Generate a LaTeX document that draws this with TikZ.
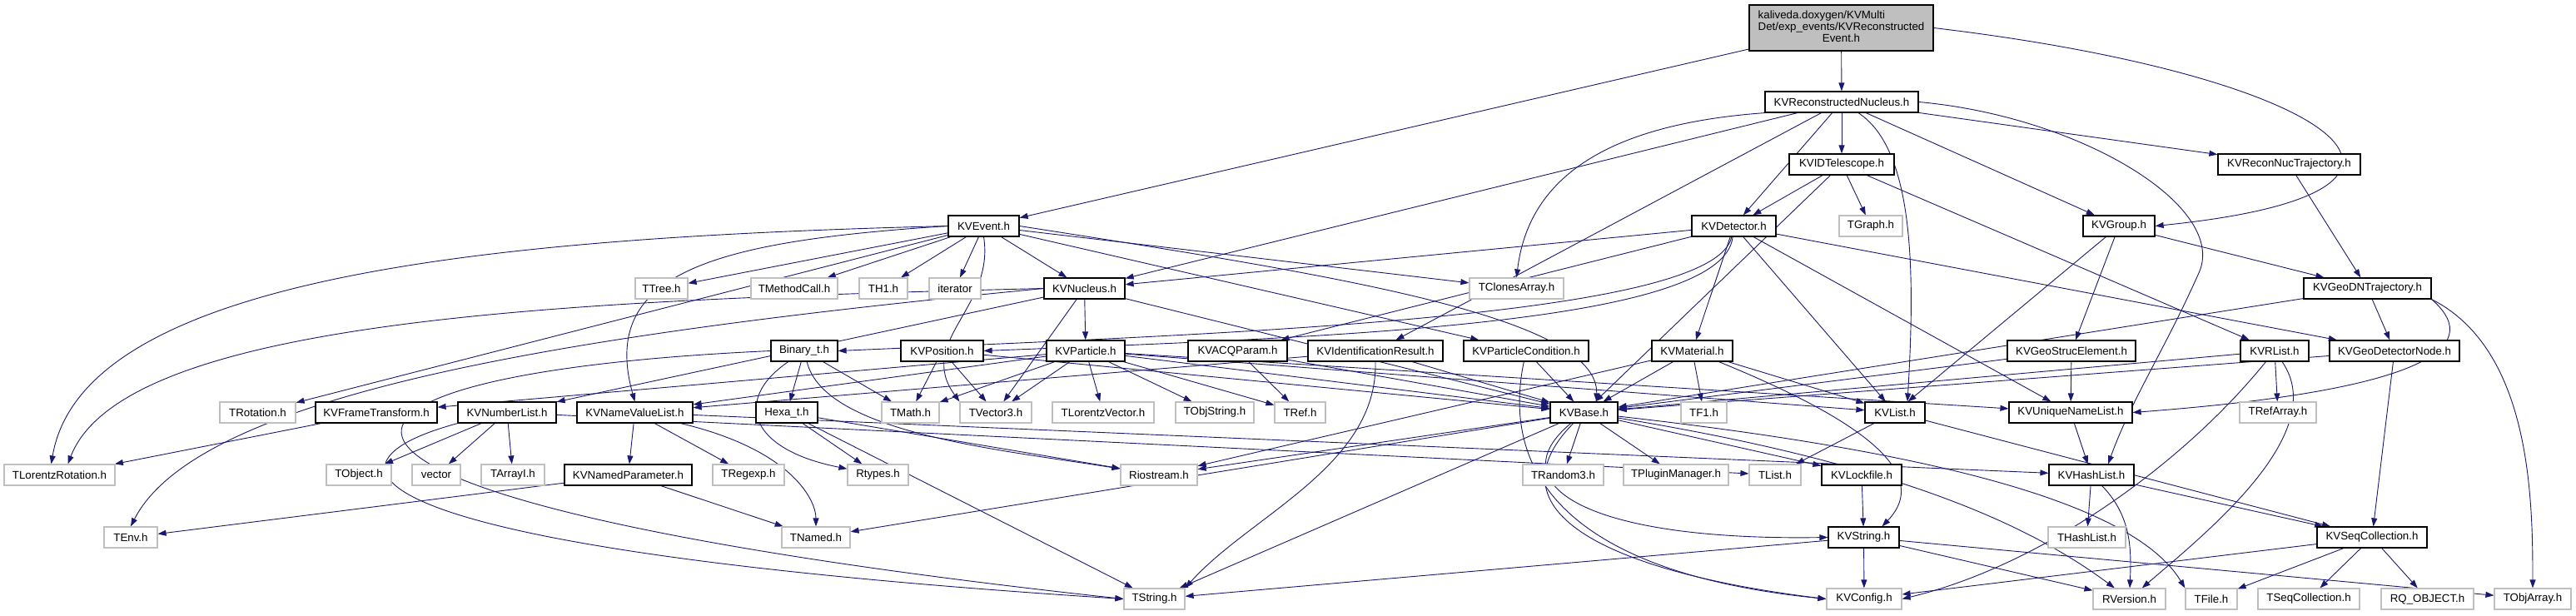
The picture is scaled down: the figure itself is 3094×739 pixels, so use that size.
\documentclass[tikz,border=0pt]{standalone}
\usepackage{fontspec}
\setmainfont{Liberation Sans}
\usetikzlibrary{arrows.meta}
\pgfdeclarelayer{bg}
\pgfsetlayers{bg,main}
\definecolor{edgec}{HTML}{191970}
\definecolor{extc}{HTML}{BFBFBF}
\newcommand{\mkn}[6]{\node[#1, minimum width={(#4-#3)*1pt}] (#2) at ({(#3+#4)/2},#5) {#6};}
\begin{document}
\begin{tikzpicture}[x=1pt,y=-1pt,
 doc/.style={draw=black, line width=1.2pt, fill=white, inner sep=0pt, minimum height=25pt, font=\fontsize{13.3}{15}\selectfont},
 ext/.style={doc, draw=extc},
 e/.style={draw=edgec, line width=0.9pt, -{Triangle[length=10pt,width=7pt]}},
]
\useasboundingbox (0,0) rectangle (3094,739);
\node[doc, fill=extc, minimum width=221pt, minimum height=55pt] (top) at (2211.5,33.5) {\renewcommand{\arraystretch}{0.92}\begin{tabular}{@{}l@{}}kaliveda.doxygen/KVMulti\\Det/exp\_events/KVReconstructed\\\multicolumn{1}{@{}c@{}}{Event.h}\end{tabular}};
\mkn{doc}{recnuc}{2120}{2304}{122.5}{KVReconstructedNucleus.h}
\mkn{doc}{idtel}{2149}{2275}{197.5}{KVIDTelescope.h}
\mkn{doc}{recnuctraj}{2664}{2835}{197.5}{KVReconNucTrajectory.h}
\mkn{doc}{event}{1139}{1224}{271.5}{KVEvent.h}
\mkn{doc}{detector}{2032}{2133}{271.5}{KVDetector.h}
\mkn{ext}{tgraph}{2209}{2285}{271.5}{TGraph.h}
\mkn{doc}{group}{2502}{2588}{271.5}{KVGroup.h}
\mkn{ext}{ttree}{763}{826}{346.5}{TTree.h}
\mkn{ext}{tmethodcall}{902}{1006}{346.5}{TMethodCall.h}
\mkn{ext}{th1}{1032}{1090}{346.5}{TH1.h}
\mkn{ext}{iterator}{1116}{1178}{346.5}{iterator}
\mkn{doc}{nucleus}{1254}{1351}{346.5}{KVNucleus.h}
\mkn{ext}{tclonesarray}{1765}{1878}{346.5}{TClonesArray.h}
\mkn{doc}{geodntraj}{2767}{2920}{346.5}{KVGeoDNTrajectory.h}
\mkn{doc}{binary}{926}{1006}{421.5}{Binary\_t.h}
\mkn{doc}{position}{1082}{1181}{421.5}{KVPosition.h}
\mkn{doc}{particle}{1257}{1351}{421.5}{KVParticle.h}
\mkn{doc}{acqparam}{1427}{1546}{421.5}{KVACQParam.h}
\mkn{doc}{idresult}{1571}{1733}{421.5}{KVIdentificationResult.h}
\mkn{doc}{partcond}{1758}{1908}{421.5}{KVParticleCondition.h}
\mkn{doc}{material}{1984}{2081}{421.5}{KVMaterial.h}
\mkn{doc}{geostruc}{2411}{2565}{421.5}{KVGeoStrucElement.h}
\mkn{doc}{rlist}{2691}{2773}{421.5}{KVRList.h}
\mkn{doc}{geodetnode}{2798}{2954}{421.5}{KVGeoDetectorNode.h}
\mkn{ext}{trotation}{264}{355}{495.5}{TRotation.h}
\mkn{doc}{frametrans}{379}{525}{495.5}{KVFrameTransform.h}
\mkn{doc}{numberlist}{550}{668}{495.5}{KVNumberList.h}
\mkn{doc}{namevaluelist}{693}{832}{495.5}{KVNameValueList.h}
\mkn{doc}{hexa}{908}{982}{495.5}{Hexa\_t.h}
\mkn{ext}{tmath}{1059}{1128}{495.5}{TMath.h}
\mkn{ext}{tvector3}{1153}{1239}{495.5}{TVector3.h}
\mkn{ext}{tlorentzvector}{1264}{1386}{495.5}{TLorentzVector.h}
\mkn{ext}{tobjstring}{1412}{1506}{495.5}{TObjString.h}
\mkn{ext}{tref}{1531}{1592}{495.5}{TRef.h}
\mkn{doc}{kvbase}{1862}{1943}{495.5}{KVBase.h}
\mkn{ext}{tf1}{2019}{2074}{495.5}{TF1.h}
\mkn{doc}{kvlist}{2240}{2312}{495.5}{KVList.h}
\mkn{doc}{uniquenamelist}{2413}{2561}{495.5}{KVUniqueNameList.h}
\mkn{ext}{trefarray}{2690}{2782}{495.5}{TRefArray.h}
\mkn{ext}{tlorentzrotation}{5}{138}{570.5}{TLorentzRotation.h}
\mkn{ext}{tobject}{392}{470}{570.5}{TObject.h}
\mkn{ext}{vector}{495}{553}{570.5}{vector}
\mkn{ext}{tarrayi}{578}{654}{570.5}{TArrayI.h}
\mkn{doc}{namedparam}{678}{831}{570.5}{KVNamedParameter.h}
\mkn{ext}{tregexp}{856}{942}{570.5}{TRegexp.h}
\mkn{ext}{rtypes}{1018}{1091}{570.5}{Rtypes.h}
\mkn{ext}{riostream}{1346}{1438}{570.5}{Riostream.h}
\mkn{ext}{trandom3}{1829}{1926}{570.5}{TRandom3.h}
\mkn{ext}{tpluginmanager}{1950}{2076}{570.5}{TPluginManager.h}
\mkn{ext}{tlist}{2101}{2163}{570.5}{TList.h}
\mkn{doc}{lockfile}{2188}{2284}{570.5}{KVLockfile.h}
\mkn{doc}{hashlist}{2461}{2563}{570.5}{KVHashList.h}
\mkn{ext}{tenv}{125}{189}{645.5}{TEnv.h}
\mkn{ext}{tnamed}{939}{1021}{645.5}{TNamed.h}
\mkn{doc}{kvstring}{2196}{2281}{645.5}{KVString.h}
\mkn{ext}{thashlist}{2460}{2553}{645.5}{THashList.h}
\mkn{doc}{seqcoll}{2783}{2915}{645.5}{KVSeqCollection.h}
\mkn{ext}{tstring}{1350}{1423}{719.5}{TString.h}
\mkn{ext}{kvconfig}{2194}{2284}{719.5}{KVConfig.h}
\mkn{ext}{rversion}{2514}{2601}{719.5}{RVersion.h}
\mkn{ext}{tfile}{2625}{2687}{719.5}{TFile.h}
\mkn{ext}{tseqcoll}{2712}{2834}{719.5}{TSeqCollection.h}
\mkn{ext}{rqobject}{2860}{2971}{719.5}{RQ\_OBJECT.h}
\mkn{ext}{tobjarray}{2996}{3088}{719.5}{TObjArray.h}
\begin{pgfonlayer}{bg}
% top
\draw[e] (top) -- (event);
\draw[e] (top) -- (recnuc);
\draw[e] (top.east) .. controls (2800,90) and (3000,230) .. (group.east);
% reconstructed nucleus
\draw[e] (recnuc) -- (recnuctraj);
\draw[e] (recnuc) -- (idtel);
\draw[e] (recnuc) -- (group);
\draw[e] (recnuc) -- (nucleus);
\draw[e] (recnuc) -- (idresult);
\draw[e] (recnuc) -- (detector);
\draw[e] (recnuc.south west) .. controls (1920,150) and (1835,220) .. (tclonesarray.north);
\draw[e] ([xshift=20pt]recnuc.south) .. controls (2300,180) and (2300,330) .. ([xshift=15pt]kvlist.north);
\draw[e] (recnuc.east) .. controls (2500,140) and (2680,250) .. (2640,330) .. controls (2600,420) and (2560,480) .. ([xshift=20pt]hashlist.north);
% telescope
\draw[e] (idtel) -- (detector);
\draw[e] (idtel) -- (tgraph);
\draw[e] (idtel) -- (rlist);
\draw[e] (idtel) -- (kvbase);
\draw[e] (recnuctraj) -- (geodntraj);
% event
\draw[e] (event) -- (ttree);
\draw[e] (event) -- (tmethodcall);
\draw[e] (event) -- (th1);
\draw[e] (event) -- (iterator);
\draw[e] (event) -- (nucleus);
\draw[e] (event) -- (tclonesarray);
\draw[e] (event) -- (partcond);
\draw[e] (event) -- (trotation);
\draw[e] (event.west) .. controls (600,285) and (100,330) .. ([xshift=-10pt]tlorentzrotation.north);
\draw[e] (event.west) .. controls (850,290) and (720,330) .. (namevaluelist.north);
\draw[e] (event.south) .. controls (1195,370) and (1100,410) .. (tvector3.north west);
\draw[e] (event.east) .. controls (1600,330) and (1920,380) .. ([xshift=15pt]kvbase.north);
% nucleus
\draw[e] (nucleus) -- (particle);
\draw[e] (nucleus) -- (tvector3);
\draw[e] (nucleus) -- (numberlist);
\draw[e] (nucleus) -- (kvbase);
\draw[e] (nucleus.west) .. controls (700,360) and (150,380) .. ([xshift=10pt]tlorentzrotation.north);
\draw[e] (nucleus.west) .. controls (700,400) and (240,470) .. (tenv.north);
% binary / hexa
\draw[e] (binary) -- (hexa);
\draw[e] (binary) -- (tmath);
\draw[e] (binary) .. controls (880,480) and (900,540) .. (rtypes);
\draw[e] (binary) .. controls (990,520) and (1200,540) .. (riostream);
\draw[e] (binary.west) .. controls (300,450) and (250,600) .. (tstring.west);
\draw[e] (hexa) -- (rtypes);
\draw[e] (hexa) -- (riostream);
\draw[e] (hexa) -- (tstring);
% position / particle
\draw[e] (position) -- (tmath);
\draw[e] (position) -- (tvector3);
\draw[e] (position) -- (kvbase);
\draw[e] (particle) -- (tmath);
\draw[e] (particle) -- (tvector3);
\draw[e] (particle) -- (tlorentzvector);
\draw[e] (particle) -- (tobjstring);
\draw[e] (particle) -- (tref);
\draw[e] (particle) -- (namevaluelist);
\draw[e] (particle) -- (frametrans);
\draw[e] (particle) -- (kvbase);
\draw[e] (particle) -- (kvlist);
\draw[e] (particle) -- (uniquenamelist);
% acq / idresult / partcond / material
\draw[e] (acqparam) -- (tref);
\draw[e] (acqparam) -- (kvbase);
\draw[e] (idresult) -- (kvbase);
\draw[e] (idresult) -- (namevaluelist);
\draw[e] (idresult.south) .. controls (1655,560) and (1500,620) .. (tstring.north east);
\draw[e] (partcond) -- (kvbase);
\draw[e] (partcond) .. controls (1800,580) and (1900,690) .. (kvconfig.west);
\draw[e] (material) -- (kvbase);
\draw[e] (material) -- (tf1);
\draw[e] (material) -- (kvlist);
\draw[e] (material) -- (riostream);
\draw[e] (material) .. controls (2200,490) and (2330,560) .. ([xshift=22pt]kvstring.north);
% detector
\draw[e] (detector) -- (nucleus);
\draw[e] (detector) -- (material);
\draw[e] (detector) -- (kvlist);
\draw[e] (detector) -- (uniquenamelist);
\draw[e] (detector) -- (geodetnode);
\draw[e] (detector) -- (acqparam);
\draw[e] (detector) .. controls (2060,380) and (1500,400) .. (binary.east);
\draw[e] (detector) .. controls (2070,390) and (1600,405) .. (position.east);
% group and geometry
\draw[e] (group) -- (geostruc);
\draw[e] (group) -- (geodntraj);
\draw[e] (group) -- (kvlist);
\draw[e] (geodntraj) -- (geodetnode);
\draw[e] (geodntraj) -- (kvbase);
\draw[e] (geodntraj.south east) .. controls (2990,420) and (2900,470) .. (uniquenamelist.east);
\draw[e] (geodntraj.south east) .. controls (3040,420) and (3042,600) .. (tobjarray.north);
\draw[e] (geostruc) -- (uniquenamelist);
\draw[e] (geostruc) -- (kvbase);
\draw[e] (rlist) -- (trefarray);
\draw[e] (rlist) -- (kvbase);
\draw[e] (rlist) .. controls (2620,560) and (2450,680) .. (kvconfig.east);
\draw[e] (rlist) .. controls (2800,520) and (2650,640) .. (rversion);
\draw[e] (geodetnode) -- (kvbase);
\draw[e] (geodetnode) -- (seqcoll);
% lists
\draw[e] (frametrans) -- (tlorentzrotation);
\draw[e] (numberlist) -- (tobject);
\draw[e] (numberlist) -- (vector);
\draw[e] (numberlist) -- (tarrayi);
\draw[e] (numberlist) -- (tlist);
\draw[e] (numberlist.south west) .. controls (360,560) and (420,660) .. (tstring.west);
\draw[e] (namevaluelist) -- (namedparam);
\draw[e] (namevaluelist) -- (tregexp);
\draw[e] (namevaluelist) .. controls (950,540) and (980,600) .. (tnamed);
\draw[e] (namevaluelist) -- (hashlist);
\draw[e] (namedparam) -- (tenv);
\draw[e] (namedparam) -- (tnamed);
% base
\draw[e] (kvbase) -- (trandom3);
\draw[e] (kvbase) -- (tpluginmanager);
\draw[e] (kvbase) -- (lockfile);
\draw[e] (kvbase) -- (tnamed);
\draw[e] (kvbase) -- (riostream);
\draw[e] (kvbase) -- (tstring);
\draw[e] (kvbase) .. controls (2300,560) and (2450,640) .. (rversion);
\draw[e] (kvbase) .. controls (2300,540) and (2560,600) .. (tfile.north west);
\draw[e] (kvbase) .. controls (1800,580) and (1900,650) .. (kvstring.west);
\draw[e] (kvbase) .. controls (1780,620) and (1950,690) .. (kvconfig.west);
\draw[e] (kvlist) -- (tlist);
\draw[e] (kvlist) -- (seqcoll);
\draw[e] (uniquenamelist) -- (hashlist);
\draw[e] (hashlist) -- (thashlist);
\draw[e] (hashlist) .. controls (2560,620) and (2560,660) .. (rversion);
\draw[e] (hashlist) -- (seqcoll);
\draw[e] (lockfile) -- (kvstring);
\draw[e] (kvstring) -- (kvconfig);
\draw[e] (kvstring) -- (tstring);
\draw[e] (kvstring) -- (rversion);
\draw[e] (kvstring) -- (tobjarray);
\draw[e] (seqcoll) -- (kvconfig);
\draw[e] (seqcoll) -- (tfile);
\draw[e] (seqcoll) -- (tseqcoll);
\draw[e] (seqcoll) -- (rqobject);
\end{pgfonlayer}
\end{tikzpicture}
\end{document}
